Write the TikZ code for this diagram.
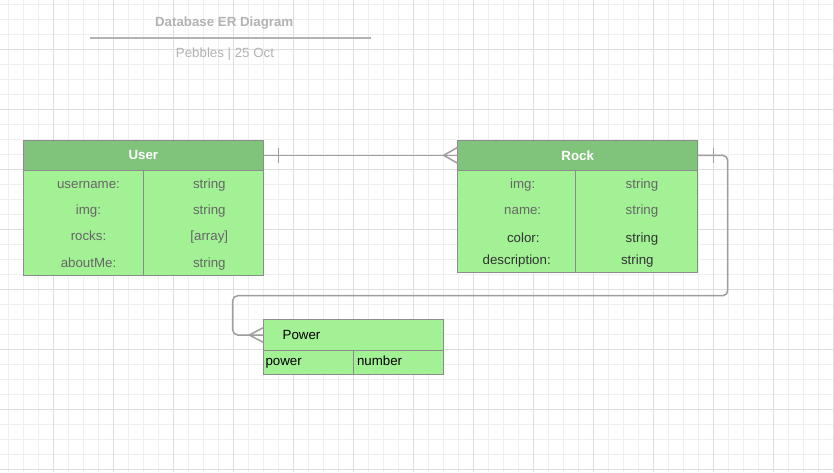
\documentclass[tikz,border=0pt]{standalone}
\usepackage{fontspec}
\setmainfont{Liberation Sans}
\usetikzlibrary{calc}
\definecolor{gridminor}{HTML}{EFEFEF}
\definecolor{gridmajor}{HTML}{DEDEDE}
\definecolor{hdrgreen}{HTML}{80C47C}
\definecolor{bodygreen}{HTML}{A2F195}
\definecolor{bordergray}{HTML}{8C8C8C}
\definecolor{txtgray}{HTML}{666666}
\definecolor{txtdark}{HTML}{333333}
\definecolor{titlegray}{HTML}{B3B3B3}
\definecolor{conngray}{HTML}{9E9E9E}
\begin{document}
\begin{tikzpicture}[x=1pt,y=-1pt,
  every node/.style={font=\fontsize{13.3}{15}\selectfont, inner sep=0pt, outer sep=0pt},
  hdr/.style={draw=bordergray, fill=hdrgreen, line width=1pt, anchor=north west, text=white, font=\fontsize{13.3}{15}\selectfont\bfseries},
  cell/.style={draw=bordergray, fill=bodygreen, line width=1pt, anchor=north west},
  tshift/.style={text height=12.4pt, text depth=1.6pt},
  lbl/.style={text=txtgray, tshift},
  dlbl/.style={text=txtdark, tshift},
  blbl/.style={text=black, tshift, anchor=west},
  conn/.style={draw=conngray, line width=1.5pt},
  gmin/.style={draw=gridminor, line width=1pt},
  gmaj/.style={draw=gridmajor, line width=1pt},
]
\useasboundingbox (0,0) rectangle (834,472);
\fill[white] (0,0) rectangle (834,472);
% grid
\foreach \i in {0,...,55} \draw[gmin] ({8.3+15*\i},0) -- ({8.3+15*\i},472);
\foreach \j in {0,...,31} \draw[gmin] (0,{4.3+15*\j}) -- (834,{4.3+15*\j});
\foreach \i in {0,...,13} \draw[gmaj] ({53.3+60*\i},0) -- ({53.3+60*\i},472);
\foreach \j in {0,...,7} \draw[gmaj] (0,{49.3+60*\j}) -- (834,{49.3+60*\j});

% title
\node[text=titlegray, font=\fontsize{13.3}{15}\selectfont\bfseries, tshift] (title) at (224.2,20.7) {Database ER Diagram};
\coordinate (tl) at (90,38);
\coordinate (tr) at (371,38);
\draw[titlegray, line width=1.5pt] (tl) -- (tr);
\node[text=titlegray, tshift] (sub) at (225,52.3) {Pebbles | 25 Oct};

% User table
\node[hdr, minimum width=240pt, minimum height=30pt] (userh) at (23.3,140.3) {User};
\node[cell, minimum width=120pt, minimum height=105pt] (userl) at (23.3,170.3) {};
\node[cell, minimum width=120pt, minimum height=105pt] (userr) at (143.3,170.3) {};
\node[lbl] (u1k) at (88.5,183.3) {username:};
\node[lbl] (u1v) at (209.3,183.3) {string};
\node[lbl] (u2k) at (88.5,209.3) {img:};
\node[lbl] (u2v) at (209.3,209.3) {string};
\node[lbl] (u3k) at (88.5,235.3) {rocks:};
\node[lbl] (u3v) at (209.3,235.3) {[array]};
\node[lbl] (u4k) at (88.5,262.3) {aboutMe:};
\node[lbl] (u4v) at (209.3,262.3) {string};

% Rock table
\node[hdr, minimum width=240pt, minimum height=30pt] (rockh) at (457.7,140.3) {Rock};
\node[cell, minimum width=118pt, minimum height=102.4pt] (rockl) at (457.7,170.3) {};
\node[cell, minimum width=122pt, minimum height=102.4pt] (rockr) at (575.7,170.3) {};
\node[lbl] (r1k) at (522.7,183.3) {img:};
\node[lbl] (r1v) at (642,183.3) {string};
\node[lbl] (r2k) at (522.7,209.3) {name:};
\node[lbl] (r2v) at (642,209.3) {string};
\node[dlbl] (r3k) at (523.3,236.7) {color:};
\node[dlbl] (r3v) at (642,236.7) {string};
\node[dlbl] (r4k) at (516.7,259) {description:};
\node[dlbl] (r4v) at (637.3,259) {string};

% Power table
\node[cell, minimum width=180pt, minimum height=31pt] (powerh) at (263.3,319.5) {};
\node[blbl] (ptitle) at (282.7,334.3) {Power};
\node[cell, minimum width=90pt, minimum height=23.5pt] (powl) at (263.3,350.5) {};
\node[cell, minimum width=90pt, minimum height=23.5pt] (powr) at (353.3,350.5) {};
\node[blbl] (p1k) at (265.5,360.3) {power};
\node[blbl] (p1v) at (357,360.3) {number};

% connector User -> Rock
\draw[conn] (userh.east) -- (rockh.west);
\draw[conn] ($(userh.east)+(15,-7.5)$) -- ($(userh.east)+(15,7.5)$);
\draw[conn] ($(rockh.west)+(0,-8)$) -- ($(rockh.west)+(-14,0)$) -- ($(rockh.west)+(0,8)$);

% connector Rock -> Power
\coordinate (bend1) at (727.7,295.7);
\coordinate (bend2) at (232.7,295.7);
\draw[conn, rounded corners=5pt] (rockh.east) -| (bend1) -- (bend2) |- (powerh.west);
\draw[conn] ($(rockh.east)+(15.6,-7.5)$) -- ($(rockh.east)+(15.6,7.5)$);
\draw[conn] ($(powerh.west)+(0,-7.3)$) -- ($(powerh.west)+(-14,0)$) -- ($(powerh.west)+(0,7.3)$);
\end{tikzpicture}
\end{document}
